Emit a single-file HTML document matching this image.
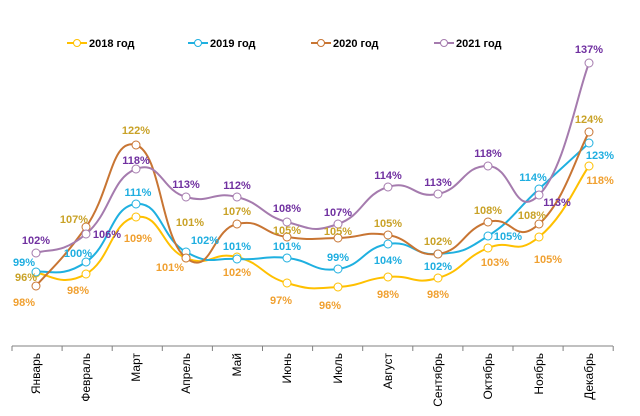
<!DOCTYPE html>
<html><head><meta charset="utf-8"><style>
body{margin:0;background:#fff}
svg{display:block;font-family:"Liberation Sans",sans-serif}
.l{font-weight:bold;font-size:11px;text-anchor:middle}
.m{font-size:12px;fill:#000}
</style></head><body>
<svg id="s" width="640" height="416" viewBox="0 0 640 416">
<line x1="12" y1="346" x2="613" y2="346" stroke="#808080" stroke-width="1"/>
<g id="ticks"></g>
<g id="lines"></g>
<g class="m">
<text transform="translate(40,353) rotate(-90)" text-anchor="end">Январь</text>
<text transform="translate(90,353) rotate(-90)" text-anchor="end">Февраль</text>
<text transform="translate(140,353) rotate(-90)" text-anchor="end">Март</text>
<text transform="translate(190,353) rotate(-90)" text-anchor="end">Апрель</text>
<text transform="translate(241,353) rotate(-90)" text-anchor="end">Май</text>
<text transform="translate(291,353) rotate(-90)" text-anchor="end">Июнь</text>
<text transform="translate(342,353) rotate(-90)" text-anchor="end">Июль</text>
<text transform="translate(392,353) rotate(-90)" text-anchor="end">Август</text>
<text transform="translate(442,353) rotate(-90)" text-anchor="end">Сентябрь</text>
<text transform="translate(492,353) rotate(-90)" text-anchor="end">Октябрь</text>
<text transform="translate(543,353) rotate(-90)" text-anchor="end">Ноябрь</text>
<text transform="translate(593,353) rotate(-90)" text-anchor="end">Декабрь</text>
</g>
<g class="l" fill="#7030A0">
<text x="36" y="244">102%</text><text x="107" y="238">106%</text><text x="136" y="164">118%</text><text x="186" y="188">113%</text><text x="237" y="189">112%</text><text x="287" y="212">108%</text><text x="338" y="216">107%</text><text x="388" y="179">114%</text><text x="438" y="186">113%</text><text x="488" y="157">118%</text><text x="557" y="206">113%</text><text x="589" y="53">137%</text>
</g>
<g class="l" fill="#C9A227">
<text x="26" y="281">96%</text><text x="74" y="223">107%</text><text x="136" y="134">122%</text><text x="190" y="226">101%</text><text x="237" y="215">107%</text><text x="287" y="234">105%</text><text x="338" y="235">105%</text><text x="388" y="227">105%</text><text x="438" y="245">102%</text><text x="488" y="214">108%</text><text x="532" y="219">108%</text><text x="589" y="123">124%</text>
</g>
<g class="l" fill="#1FAEE0">
<text x="24" y="266">99%</text><text x="78" y="257">100%</text><text x="138" y="196">111%</text><text x="205" y="244">102%</text><text x="237" y="250">101%</text><text x="287" y="250">101%</text><text x="338" y="261">99%</text><text x="388" y="264">104%</text><text x="438" y="270">102%</text><text x="508" y="240">105%</text><text x="533" y="181">114%</text><text x="600" y="159">123%</text>
</g>
<g class="l" fill="#F0A030">
<text x="24" y="306">98%</text><text x="78" y="294">98%</text><text x="138" y="242">109%</text><text x="170" y="271">101%</text><text x="237" y="276">102%</text><text x="281" y="304">97%</text><text x="330" y="309">96%</text><text x="388" y="298">98%</text><text x="438" y="298">98%</text><text x="495" y="266">103%</text><text x="548" y="263">105%</text><text x="600" y="184">118%</text>
</g>
<g id="leg"></g>
<g font-weight="bold" font-size="11" fill="#000">
<text x="89" y="47">2018 год</text><text x="210" y="47">2019 год</text><text x="333" y="47">2020 год</text><text x="456" y="47">2021 год</text>
</g>
</svg>
<script>
var X=[36,86,136,186,237,287,338,388,438,488,539,589];
var S=[
["#FFC000",[273,274,217,258,257,283,287,277,278,248,237,166],67],
["#1FB0E0",[272,262,204,252,259,258,269,244,254,236,189,143],188],
["#C87533",[286,227,145,258,224,237,238,235,254,222,224,132],311],
["#A57BAE",[253,234,169,197,197,222,224,187,194,166,195,63],434]];
var ns="http://www.w3.org/2000/svg";
function el(t,a,p){var e=document.createElementNS(ns,t);for(var k in a)e.setAttribute(k,a[k]);p.appendChild(e);return e;}
var tk=document.getElementById("ticks");
for(var i=0;i<=12;i++){var x=12+i*50.1;el("line",{x1:x,y1:346,x2:x,y2:351,stroke:"#808080"},tk);}
var g=document.getElementById("lines"),lg=document.getElementById("leg");
S.forEach(function(s){var Y=s[1],d="M"+X[0]+","+Y[0];
for(var i=0;i<11;i++){var p0=i?i-1:0,p3=i<10?i+2:11,t=0.3;
var c1x=X[i]+(X[i+1]-X[p0])*t/1.2,c1y=Y[i]+(Y[i+1]-Y[p0])*t/1.2,c2x=X[i+1]-(X[p3]-X[i])*t/1.2,c2y=Y[i+1]-(Y[p3]-Y[i])*t/1.2;
d+=" C"+c1x+","+c1y+" "+c2x+","+c2y+" "+X[i+1]+","+Y[i+1];}
el("path",{d:d,fill:"none",stroke:s[0],"stroke-width":2},g);
X.forEach(function(x,i){el("circle",{cx:x,cy:Y[i],r:4,fill:"#fff",stroke:s[0],"stroke-width":1},g);});
el("line",{x1:s[2],y1:43,x2:s[2]+20,y2:43,stroke:s[0],"stroke-width":2},lg);
el("circle",{cx:s[2]+10,cy:43,r:3.5,fill:"#fff",stroke:s[0]},lg);});
</script>
</body></html>
